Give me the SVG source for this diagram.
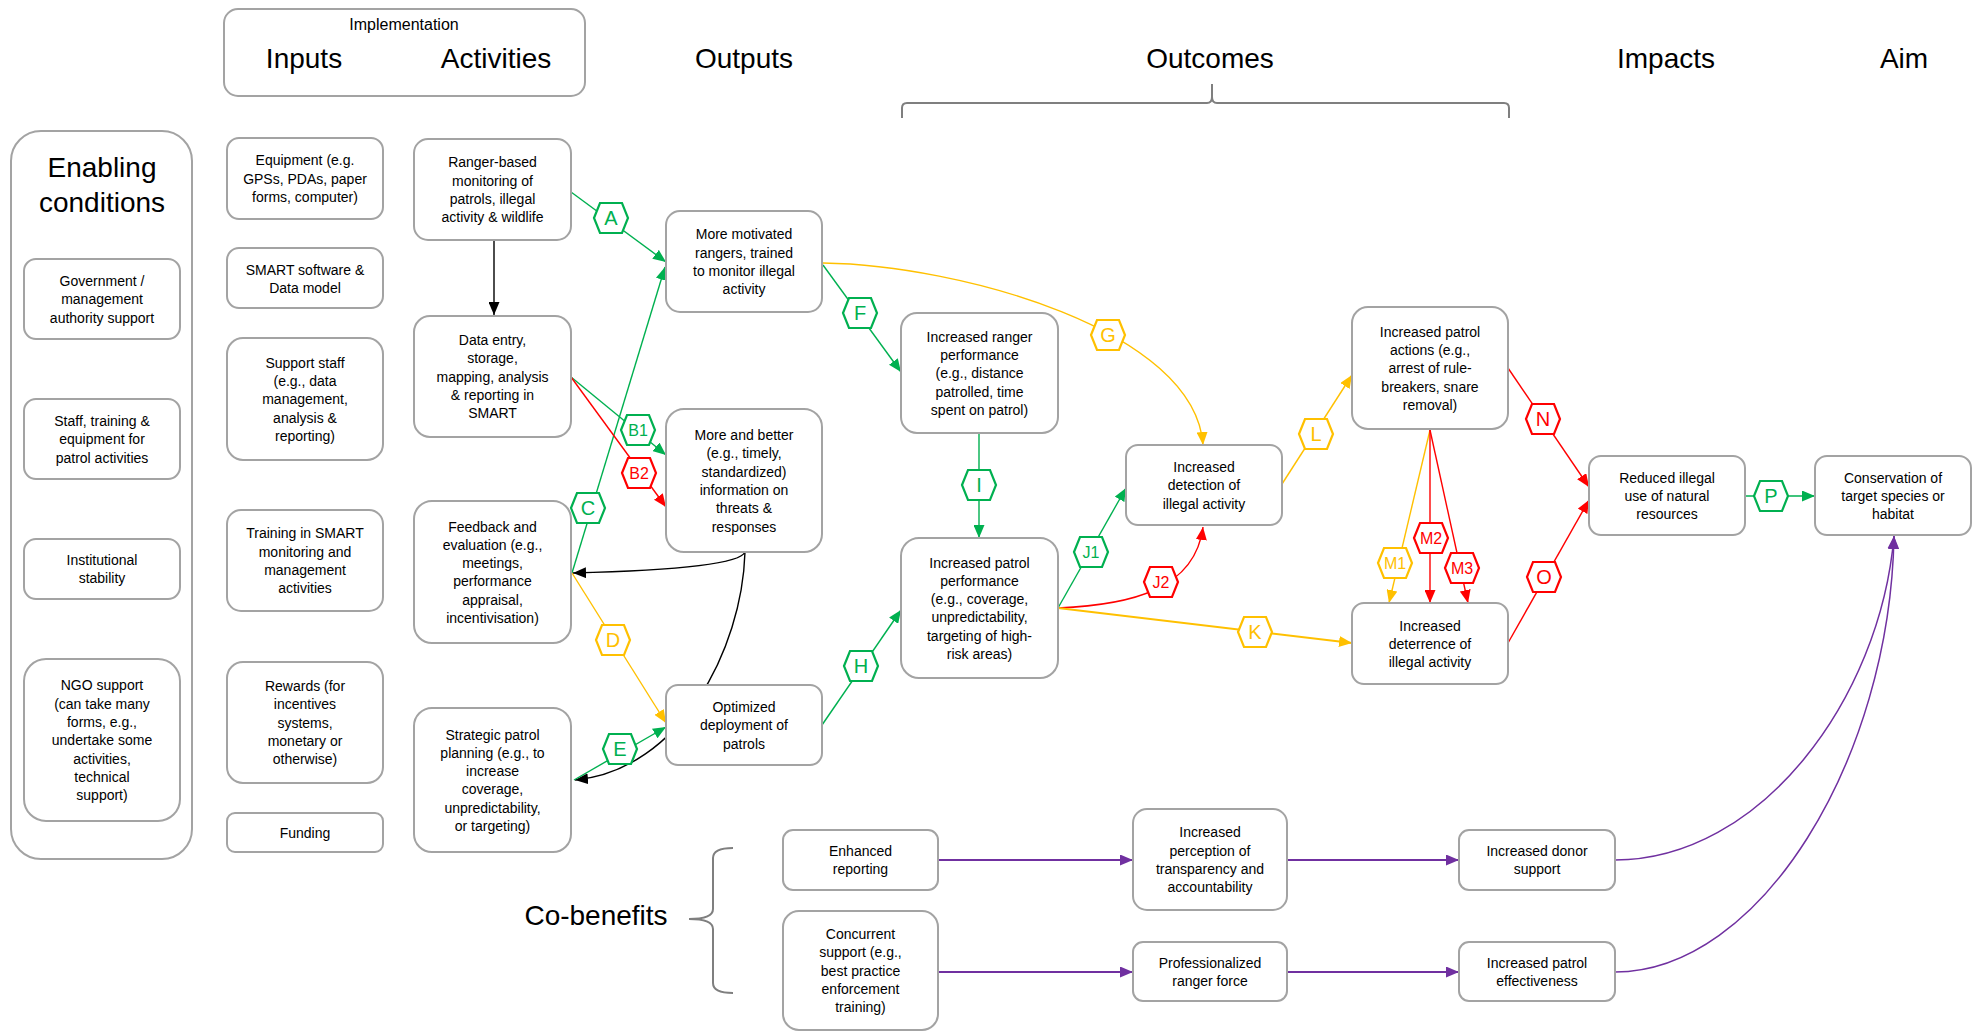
<svg xmlns="http://www.w3.org/2000/svg" xmlns:xlink="http://www.w3.org/1999/xlink" width="1981" height="1031" viewBox="0 0 1981 1031">
<style>
  .box{fill:#fff;stroke:#A3A3A3;stroke-width:2}
  .t{font-family:"Liberation Sans",Arial,sans-serif;font-size:14px;fill:#000;text-anchor:middle}
  .h{font-family:"Liberation Sans",Arial,sans-serif;font-size:28px;fill:#000;text-anchor:middle}
  .brace{fill:none;stroke:#7F7F7F;stroke-width:2}
  .c{fill:none;stroke-width:1.4}
  .g{stroke:#00B050}.y{stroke:#FFC000}.r{stroke:#FF0000}.k{stroke:#000}.p{stroke:#7030A0;stroke-width:2}
  .pc{stroke:#7030A0;stroke-width:1.5}
  .hx{fill:#fff;stroke-width:2.2}
  .hl{font-family:"Liberation Sans",Arial,sans-serif;font-size:20px;text-anchor:middle}
  .hl2{font-family:"Liberation Sans",Arial,sans-serif;font-size:16px;text-anchor:middle}
  .fg{fill:#00B050}.fy{fill:#FFC000}.fr{fill:#FF0000}
</style>
<defs>
  <marker id="mg" markerUnits="userSpaceOnUse" markerWidth="13" markerHeight="11" refX="13" refY="5.5" orient="auto"><path d="M0,0 L13,5.5 L0,11 z" fill="#00B050"/></marker>
  <marker id="my" markerUnits="userSpaceOnUse" markerWidth="13" markerHeight="11" refX="13" refY="5.5" orient="auto"><path d="M0,0 L13,5.5 L0,11 z" fill="#FFC000"/></marker>
  <marker id="mr" markerUnits="userSpaceOnUse" markerWidth="13" markerHeight="11" refX="13" refY="5.5" orient="auto"><path d="M0,0 L13,5.5 L0,11 z" fill="#FF0000"/></marker>
  <marker id="mk" markerUnits="userSpaceOnUse" markerWidth="13" markerHeight="11" refX="13" refY="5.5" orient="auto"><path d="M0,0 L13,5.5 L0,11 z" fill="#000"/></marker>
  <marker id="mp" markerUnits="userSpaceOnUse" markerWidth="13" markerHeight="11" refX="13" refY="5.5" orient="auto"><path d="M0,0 L13,5.5 L0,11 z" fill="#7030A0"/></marker>
  <polygon id="hex" points="-17,0 -11,-15 11,-15 17,0 11,15 -11,15"/>
</defs>
<rect width="1981" height="1031" fill="#fff"/>

<!-- Headers -->
<g id="header-implementation">
  <rect class="box" x="224" y="9" width="361" height="87" rx="14"/>
  <text class="t" x="404" y="30" style="font-size:16px">Implementation</text>
  <text class="h" x="304" y="68">Inputs</text>
  <text class="h" x="496" y="68">Activities</text>
</g>
<g id="header-outputs"><text class="h" x="744" y="68">Outputs</text></g>
<g id="header-outcomes">
  <text class="h" x="1210" y="68">Outcomes</text>
  <path class="brace" d="M902,118 L902,108 Q902,103 907,103 L1207,103 Q1212,103 1212,97 L1212,84 M1212,97 Q1212,103 1217,103 L1504,103 Q1509,103 1509,108 L1509,118"/>
</g>
<g id="header-impacts"><text class="h" x="1666" y="68">Impacts</text></g>
<g id="header-aim"><text class="h" x="1904" y="68">Aim</text></g>
<g id="header-cobenefits">
  <text class="h" x="596" y="925">Co-benefits</text>
  <path class="brace" d="M733,848 Q713,848 713,858 L713,909 Q713,919 689,919 Q713,919 713,929 L713,983 Q713,993 733,993"/>
</g>

<!-- Connectors -->
<g id="connectors">
  <path class="c k" d="M494,240 L494,315" marker-end="url(#mk)"/>
  <path class="c k" d="M745,552 C740,566 650,571 573,573" marker-end="url(#mk)"/>
  <path class="c k" d="M745,552 C742,650 680,770 575,780" marker-end="url(#mk)"/>
  <path class="c g" d="M571,192 L666,262" marker-end="url(#mg)"/>
  <path class="c g" d="M572,573 L665,267" marker-end="url(#mg)"/>
  <path class="c g" d="M571,377 L666,455" marker-end="url(#mg)"/>
  <path class="c r" d="M571,377 L666,507" marker-end="url(#mr)"/>
  <path class="c y" d="M572,573 L666,723" marker-end="url(#my)"/>
  <path class="c g" d="M574,780 L666,727" marker-end="url(#mg)"/>
  <path class="c g" d="M823,265 L901,372" marker-end="url(#mg)"/>
  <path class="c y" d="M823,263 C960,265 1195,330 1203,445" marker-end="url(#my)"/>
  <path class="c g" d="M822,725 L901,610" marker-end="url(#mg)"/>
  <path class="c g" d="M979,433 L979,538" marker-end="url(#mg)"/>
  <path class="c g" d="M1058,608 L1126,488" marker-end="url(#mg)"/>
  <path class="c r" d="M1058,608 C1130,605 1195,590 1203,527" marker-end="url(#mr)"/>
  <path class="c y" style="stroke-width:1.9" d="M1058,608 L1352,643" marker-end="url(#my)"/>
  <path class="c y" d="M1282,484 L1352,375" marker-end="url(#my)"/>
  <path class="c y" d="M1430,430 L1389,603" marker-end="url(#my)"/>
  <path class="c r" d="M1430,430 L1430,603" marker-end="url(#mr)"/>
  <path class="c r" d="M1430,430 L1468,603" marker-end="url(#mr)"/>
  <path class="c r" d="M1508,368 L1589,487" marker-end="url(#mr)"/>
  <path class="c r" d="M1508,643 L1589,500" marker-end="url(#mr)"/>
  <path class="c g" d="M1745,496 L1815,496" marker-end="url(#mg)"/>
  <path class="c p" d="M938,860 L1133,860" marker-end="url(#mp)"/>
  <path class="c p" d="M938,972 L1133,972" marker-end="url(#mp)"/>
  <path class="c p" d="M1287,860 L1459,860" marker-end="url(#mp)"/>
  <path class="c p" d="M1287,972 L1459,972" marker-end="url(#mp)"/>
  <path class="c pc" d="M1615,860 C1760,860 1880,700 1894,536" marker-end="url(#mp)"/>
  <path class="c pc" d="M1615,972 C1760,972 1890,760 1894,536" marker-end="url(#mp)"/>
</g>

<!-- Connector labels (hexagons) -->
<g id="connector-labels">
  <use xlink:href="#hex" x="611" y="218" class="hx g"/><text class="hl fg" x="611" y="225">A</text>
  <use xlink:href="#hex" x="638" y="430" class="hx g"/><text class="hl2 fg" x="638" y="436">B1</text>
  <use xlink:href="#hex" x="639" y="473" class="hx r"/><text class="hl2 fr" x="639" y="479">B2</text>
  <use xlink:href="#hex" x="588" y="508" class="hx g"/><text class="hl fg" x="588" y="515">C</text>
  <use xlink:href="#hex" x="613" y="640" class="hx y"/><text class="hl fy" x="613" y="647">D</text>
  <use xlink:href="#hex" x="620" y="749" class="hx g"/><text class="hl fg" x="620" y="756">E</text>
  <use xlink:href="#hex" x="860" y="313" class="hx g"/><text class="hl fg" x="860" y="320">F</text>
  <use xlink:href="#hex" x="1108" y="335" class="hx y"/><text class="hl fy" x="1108" y="342">G</text>
  <use xlink:href="#hex" x="861" y="666" class="hx g"/><text class="hl fg" x="861" y="673">H</text>
  <use xlink:href="#hex" x="979" y="485" class="hx g"/><text class="hl fg" x="979" y="492">I</text>
  <use xlink:href="#hex" x="1091" y="552" class="hx g"/><text class="hl2 fg" x="1091" y="558">J1</text>
  <use xlink:href="#hex" x="1161" y="582" class="hx r"/><text class="hl2 fr" x="1161" y="588">J2</text>
  <use xlink:href="#hex" x="1255" y="632" class="hx y"/><text class="hl fy" x="1255" y="639">K</text>
  <use xlink:href="#hex" x="1316" y="434" class="hx y"/><text class="hl fy" x="1316" y="441">L</text>
  <use xlink:href="#hex" x="1395" y="563" class="hx y"/><text class="hl2 fy" x="1395" y="569">M1</text>
  <use xlink:href="#hex" x="1431" y="538" class="hx r"/><text class="hl2 fr" x="1431" y="544">M2</text>
  <use xlink:href="#hex" x="1462" y="568" class="hx r"/><text class="hl2 fr" x="1462" y="574">M3</text>
  <use xlink:href="#hex" x="1543" y="419" class="hx r"/><text class="hl fr" x="1543" y="426">N</text>
  <use xlink:href="#hex" x="1544" y="577" class="hx r"/><text class="hl fr" x="1544" y="584">O</text>
  <use xlink:href="#hex" x="1771" y="496" class="hx g"/><text class="hl fg" x="1771" y="503">P</text>
</g>

<!-- Enabling conditions -->
<g id="enabling-conditions">
  <rect class="box" x="11" y="131" width="181" height="728" rx="30"/>
  <text class="h" x="102" y="177">Enabling</text>
  <text class="h" x="102" y="212">conditions</text>
</g>
<g id="n-government"><rect class="box" x="24" y="259" width="156" height="80" rx="12"/>
  <text class="t" x="102" y="286">Government /</text><text class="t" x="102" y="304">management</text><text class="t" x="102" y="322.5">authority support</text></g>
<g id="n-staff"><rect class="box" x="24" y="399" width="156" height="80" rx="12"/>
  <text class="t" x="102" y="426">Staff, training &amp;</text><text class="t" x="102" y="444">equipment for</text><text class="t" x="102" y="462.5">patrol activities</text></g>
<g id="n-institutional"><rect class="box" x="24" y="539" width="156" height="60" rx="12"/>
  <text class="t" x="102" y="565">Institutional</text><text class="t" x="102" y="583">stability</text></g>
<g id="n-ngo"><rect class="box" x="24" y="659" width="156" height="162" rx="22"/>
  <text class="t" x="102" y="690">NGO support</text><text class="t" x="102" y="708.5">(can take many</text><text class="t" x="102" y="727">forms, e.g.,</text><text class="t" x="102" y="745">undertake some</text><text class="t" x="102" y="763.5">activities,</text><text class="t" x="102" y="781.5">technical</text><text class="t" x="102" y="800">support)</text></g>

<!-- Inputs -->
<g id="n-equipment"><rect class="box" x="227" y="138" width="156" height="81" rx="12"/>
  <text class="t" x="305" y="165">Equipment (e.g.</text><text class="t" x="305" y="183.5">GPSs, PDAs, paper</text><text class="t" x="305" y="202">forms, computer)</text></g>
<g id="n-smart"><rect class="box" x="227" y="248" width="156" height="60" rx="12"/>
  <text class="t" x="305" y="275">SMART software &amp;</text><text class="t" x="305" y="293">Data model</text></g>
<g id="n-support-staff"><rect class="box" x="227" y="338" width="156" height="122" rx="16"/>
  <text class="t" x="305" y="367.5">Support staff</text><text class="t" x="305" y="385.5">(e.g., data</text><text class="t" x="305" y="404">management,</text><text class="t" x="305" y="422.5">analysis &amp;</text><text class="t" x="305" y="440.5">reporting)</text></g>
<g id="n-training"><rect class="box" x="227" y="510" width="156" height="101" rx="14"/>
  <text class="t" x="305" y="538">Training in SMART</text><text class="t" x="305" y="556.5">monitoring and</text><text class="t" x="305" y="574.5">management</text><text class="t" x="305" y="593">activities</text></g>
<g id="n-rewards"><rect class="box" x="227" y="662" width="156" height="121" rx="16"/>
  <text class="t" x="305" y="691">Rewards (for</text><text class="t" x="305" y="709">incentives</text><text class="t" x="305" y="727.5">systems,</text><text class="t" x="305" y="746">monetary or</text><text class="t" x="305" y="764">otherwise)</text></g>
<g id="n-funding"><rect class="box" x="227" y="813" width="156" height="39" rx="8"/>
  <text class="t" x="305" y="837.5">Funding</text></g>

<!-- Activities -->
<g id="n-ranger-monitoring"><rect class="box" x="414" y="139" width="157" height="101" rx="14"/>
  <text class="t" x="492.5" y="167">Ranger-based</text><text class="t" x="492.5" y="185.5">monitoring of</text><text class="t" x="492.5" y="203.5">patrols, illegal</text><text class="t" x="492.5" y="222">activity &amp; wildlife</text></g>
<g id="n-data-entry"><rect class="box" x="414" y="316" width="157" height="121" rx="16"/>
  <text class="t" x="492.5" y="345">Data entry,</text><text class="t" x="492.5" y="363">storage,</text><text class="t" x="492.5" y="381.5">mapping, analysis</text><text class="t" x="492.5" y="400">&amp; reporting in</text><text class="t" x="492.5" y="418">SMART</text></g>
<g id="n-feedback"><rect class="box" x="414" y="501" width="157" height="142" rx="18"/>
  <text class="t" x="492.5" y="531.5">Feedback and</text><text class="t" x="492.5" y="549.5">evaluation (e.g.,</text><text class="t" x="492.5" y="568">meetings,</text><text class="t" x="492.5" y="586">performance</text><text class="t" x="492.5" y="604.5">appraisal,</text><text class="t" x="492.5" y="623">incentivisation)</text></g>
<g id="n-strategic"><rect class="box" x="414" y="708" width="157" height="144" rx="18"/>
  <text class="t" x="492.5" y="739.5">Strategic patrol</text><text class="t" x="492.5" y="757.5">planning (e.g., to</text><text class="t" x="492.5" y="776">increase</text><text class="t" x="492.5" y="794">coverage,</text><text class="t" x="492.5" y="812.5">unpredictability,</text><text class="t" x="492.5" y="831">or targeting)</text></g>

<!-- Outputs -->
<g id="n-motivated"><rect class="box" x="666" y="211" width="156" height="101" rx="14"/>
  <text class="t" x="744" y="239">More motivated</text><text class="t" x="744" y="257.5">rangers, trained</text><text class="t" x="744" y="275.5">to monitor illegal</text><text class="t" x="744" y="294">activity</text></g>
<g id="n-information"><rect class="box" x="666" y="409" width="156" height="143" rx="18"/>
  <text class="t" x="744" y="440">More and better</text><text class="t" x="744" y="458">(e.g., timely,</text><text class="t" x="744" y="476.5">standardized)</text><text class="t" x="744" y="495">information on</text><text class="t" x="744" y="513">threats &amp;</text><text class="t" x="744" y="531.5">responses</text></g>
<g id="n-optimized"><rect class="box" x="666" y="685" width="156" height="80" rx="12"/>
  <text class="t" x="744" y="712">Optimized</text><text class="t" x="744" y="730">deployment of</text><text class="t" x="744" y="748.5">patrols</text></g>

<!-- Outcomes -->
<g id="n-ranger-performance"><rect class="box" x="901" y="313" width="157" height="120" rx="16"/>
  <text class="t" x="979.5" y="341.5">Increased ranger</text><text class="t" x="979.5" y="360">performance</text><text class="t" x="979.5" y="378">(e.g., distance</text><text class="t" x="979.5" y="396.5">patrolled, time</text><text class="t" x="979.5" y="415">spent on patrol)</text></g>
<g id="n-patrol-performance"><rect class="box" x="901" y="538" width="157" height="140" rx="18"/>
  <text class="t" x="979.5" y="567.5">Increased patrol</text><text class="t" x="979.5" y="585.5">performance</text><text class="t" x="979.5" y="604">(e.g., coverage,</text><text class="t" x="979.5" y="622">unpredictability,</text><text class="t" x="979.5" y="640.5">targeting of high-</text><text class="t" x="979.5" y="659">risk areas)</text></g>
<g id="n-detection"><rect class="box" x="1126" y="445" width="156" height="80" rx="12"/>
  <text class="t" x="1204" y="472">Increased</text><text class="t" x="1204" y="490">detection of</text><text class="t" x="1204" y="508.5">illegal activity</text></g>
<g id="n-patrol-actions"><rect class="box" x="1352" y="307" width="156" height="122" rx="16"/>
  <text class="t" x="1430" y="336.5">Increased patrol</text><text class="t" x="1430" y="355">actions (e.g.,</text><text class="t" x="1430" y="373">arrest of rule-</text><text class="t" x="1430" y="391.5">breakers, snare</text><text class="t" x="1430" y="410">removal)</text></g>
<g id="n-deterrence"><rect class="box" x="1352" y="603" width="156" height="81" rx="12"/>
  <text class="t" x="1430" y="630.5">Increased</text><text class="t" x="1430" y="648.5">deterrence of</text><text class="t" x="1430" y="667">illegal activity</text></g>

<!-- Impacts / Aim -->
<g id="n-reduced"><rect class="box" x="1589" y="456" width="156" height="79" rx="12"/>
  <text class="t" x="1667" y="482.5">Reduced illegal</text><text class="t" x="1667" y="500.5">use of natural</text><text class="t" x="1667" y="519">resources</text></g>
<g id="n-conservation"><rect class="box" x="1815" y="456" width="156" height="79" rx="12"/>
  <text class="t" x="1893" y="482.5">Conservation of</text><text class="t" x="1893" y="500.5">target species or</text><text class="t" x="1893" y="519">habitat</text></g>

<!-- Co-benefits -->
<g id="n-enhanced-reporting"><rect class="box" x="783" y="830" width="155" height="60" rx="10"/>
  <text class="t" x="860.5" y="856">Enhanced</text><text class="t" x="860.5" y="874">reporting</text></g>
<g id="n-concurrent"><rect class="box" x="783" y="911" width="155" height="119" rx="16"/>
  <text class="t" x="860.5" y="939">Concurrent</text><text class="t" x="860.5" y="957">support (e.g.,</text><text class="t" x="860.5" y="975.5">best practice</text><text class="t" x="860.5" y="994">enforcement</text><text class="t" x="860.5" y="1012">training)</text></g>
<g id="n-perception"><rect class="box" x="1133" y="809" width="154" height="101" rx="14"/>
  <text class="t" x="1210" y="837">Increased</text><text class="t" x="1210" y="855.5">perception of</text><text class="t" x="1210" y="873.5">transparency and</text><text class="t" x="1210" y="892">accountability</text></g>
<g id="n-professionalized"><rect class="box" x="1133" y="942" width="154" height="59" rx="10"/>
  <text class="t" x="1210" y="967.5">Professionalized</text><text class="t" x="1210" y="985.5">ranger force</text></g>
<g id="n-donor"><rect class="box" x="1459" y="830" width="156" height="60" rx="10"/>
  <text class="t" x="1537" y="856">Increased donor</text><text class="t" x="1537" y="874">support</text></g>
<g id="n-effectiveness"><rect class="box" x="1459" y="942" width="156" height="59" rx="10"/>
  <text class="t" x="1537" y="967.5">Increased patrol</text><text class="t" x="1537" y="985.5">effectiveness</text></g>
</svg>
